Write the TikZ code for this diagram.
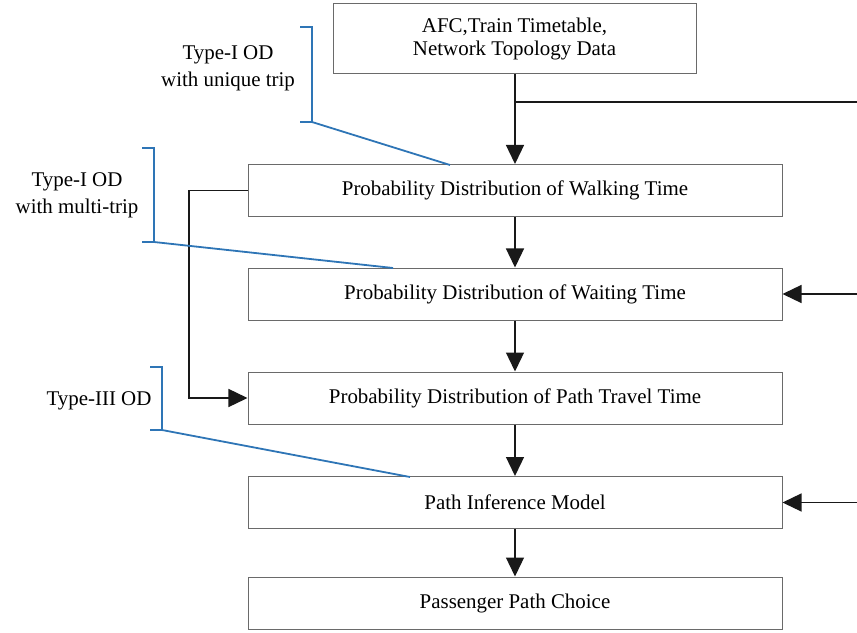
\documentclass[tikz,border=0pt]{standalone}
\usepackage{fontspec}
\setmainfont{Liberation Serif}
\usetikzlibrary{arrows.meta}
\definecolor{bracketblue}{HTML}{2E75B6}
\definecolor{boxgrey}{HTML}{6A6A6A}
\begin{document}
\begin{tikzpicture}[x=1bp,y=-1bp,
  stepbox/.style={draw=boxgrey,line width=1bp,minimum width=534bp,minimum height=52bp,
    inner sep=0pt,font=\fontsize{21}{24}\selectfont,align=center},
  flow/.style={draw=black!90,line width=1.3bp,-{Triangle[length=19bp,width=18bp]}},
  plain/.style={draw=black!90,line width=1.3bp},
  brk/.style={draw=bracketblue,line width=1.8bp},
  lbl/.style={font=\fontsize{21}{27}\selectfont,align=center}]
\useasboundingbox (0,0) rectangle (857,633);

% data sources and processing steps
\node[stepbox,minimum width=363bp,minimum height=70bp] (src) at (514.5,39)
  {AFC,Train Timetable,\\Network Topology Data};
\node[stepbox] (walk) at (515,190.5) {Probability Distribution of Walking Time};
\node[stepbox] (wait) at (515,294) {Probability Distribution of Waiting Time};
\node[stepbox] (travel) at (515,398) {Probability Distribution of Path Travel Time};
\node[stepbox] (infer) at (515,502.5) {Path Inference Model};
\node[stepbox] (choice) at (515,603) {Passenger Path Choice};

% main vertical flow
\draw[flow] (src.south -| walk.north) -- (walk.north);
\draw[flow] (walk) -- (wait);
\draw[flow] (wait) -- (travel);
\draw[flow] (travel) -- (infer);
\draw[flow] (infer) -- (choice);

% branch to the right and inputs from the right
\coordinate (tap) at (514.5,102);
\coordinate (tapend) at (857,102);
\draw[plain] (tap) -- (tapend);
\coordinate (inwait) at (857,294);
\coordinate (ininfer) at (857,502.5);
\draw[flow] (inwait) -- (wait.east);
\draw[flow] (ininfer) -- (infer.east);

% loop from walking time to path travel time
\draw[flow] (walk.west) -- (189,190.5) |- (travel.west);

% OD type labels with brackets
\node[lbl] (od1) at (228,68) {Type-I OD\\with unique trip};
\node[lbl] (od2) at (77,195) {Type-I OD\\with multi-trip};
\node[lbl] (od3) at (99,401) {Type-III OD};

\coordinate (b1) at (312,122);
\coordinate (b2) at (154,242);
\coordinate (b3) at (162,430);
\draw[brk] (300,27) -- (312,27) -- (b1) -- (300,122);
\draw[brk] (b1) -- (450,165);
\draw[brk] (142,148) -- (154,148) -- (b2) -- (142,242);
\draw[brk] (b2) -- (393,268);
\draw[brk] (150,367) -- (162,367) -- (b3) -- (150,430);
\draw[brk] (b3) -- (410,477);
\end{tikzpicture}
\end{document}
